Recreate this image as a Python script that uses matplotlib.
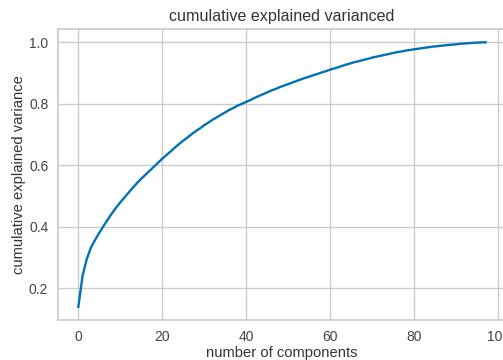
import numpy as np
import matplotlib
matplotlib.use("Agg")
import matplotlib.pyplot as plt

# cumulative explained variance (components 0..97)
cum_var = [
    0.139, 0.240, 0.294, 0.332, 0.357, 0.380, 0.402, 0.423, 0.443, 0.462,
    0.479, 0.495, 0.511, 0.527, 0.542, 0.556, 0.569, 0.582, 0.595, 0.608,
    0.621, 0.633, 0.645, 0.657, 0.669, 0.680, 0.690, 0.701, 0.711, 0.720,
    0.730, 0.739, 0.748, 0.756, 0.764, 0.772, 0.780, 0.787, 0.794, 0.800,
    0.806, 0.812, 0.819, 0.825, 0.831, 0.837, 0.843, 0.848, 0.854, 0.859,
    0.864, 0.869, 0.874, 0.879, 0.884, 0.888, 0.893, 0.897, 0.902, 0.906,
    0.911, 0.915, 0.919, 0.924, 0.928, 0.932, 0.936, 0.939, 0.943, 0.946,
    0.950, 0.953, 0.956, 0.959, 0.962, 0.965, 0.968, 0.970, 0.973, 0.975,
    0.977, 0.979, 0.981, 0.983, 0.985, 0.9865, 0.988, 0.9895, 0.991, 0.992,
    0.9935, 0.995, 0.996, 0.997, 0.998, 0.9987, 0.9995, 1.000,
]
x_ticks = [0, 20, 40, 60, 80, 100]
y_ticks = [0.2, 0.4, 0.6, 0.8, 1.0]

plt.rcParams['font.family'] = ['Liberation Sans', 'DejaVu Sans']
txt = '#333333'
grid_c = '#cccccc'

fig = plt.figure(figsize=(5.03, 3.6), dpi=100)
ax = fig.add_axes([58/503, 40/360, 448/503, 291/360])

ax.plot(np.arange(len(cum_var)), cum_var, color='#0072B2', lw=1.7)

ax.set_xticks(x_ticks)
ax.set_yticks(y_ticks)
ax.set_xlim(-4.85, 101.85)
ax.set_ylim(0.0959, 1.0431)
ax.grid(True, color=grid_c, lw=1.0)
ax.set_axisbelow(True)
for s in ax.spines.values():
    s.set_color(grid_c)
    s.set_linewidth(1.25)
ax.tick_params(length=0, pad=7, labelsize=10, labelcolor='#444444')

ax.set_title('cumulative explained varianced', fontsize=11.6, color=txt, pad=6)
ax.set_xlabel('number of components', fontsize=10.6, color=txt, labelpad=2)
ax.set_ylabel('cumulative explained variance', fontsize=10.6, color=txt, labelpad=2)

fig.savefig('out.png', dpi=100)
